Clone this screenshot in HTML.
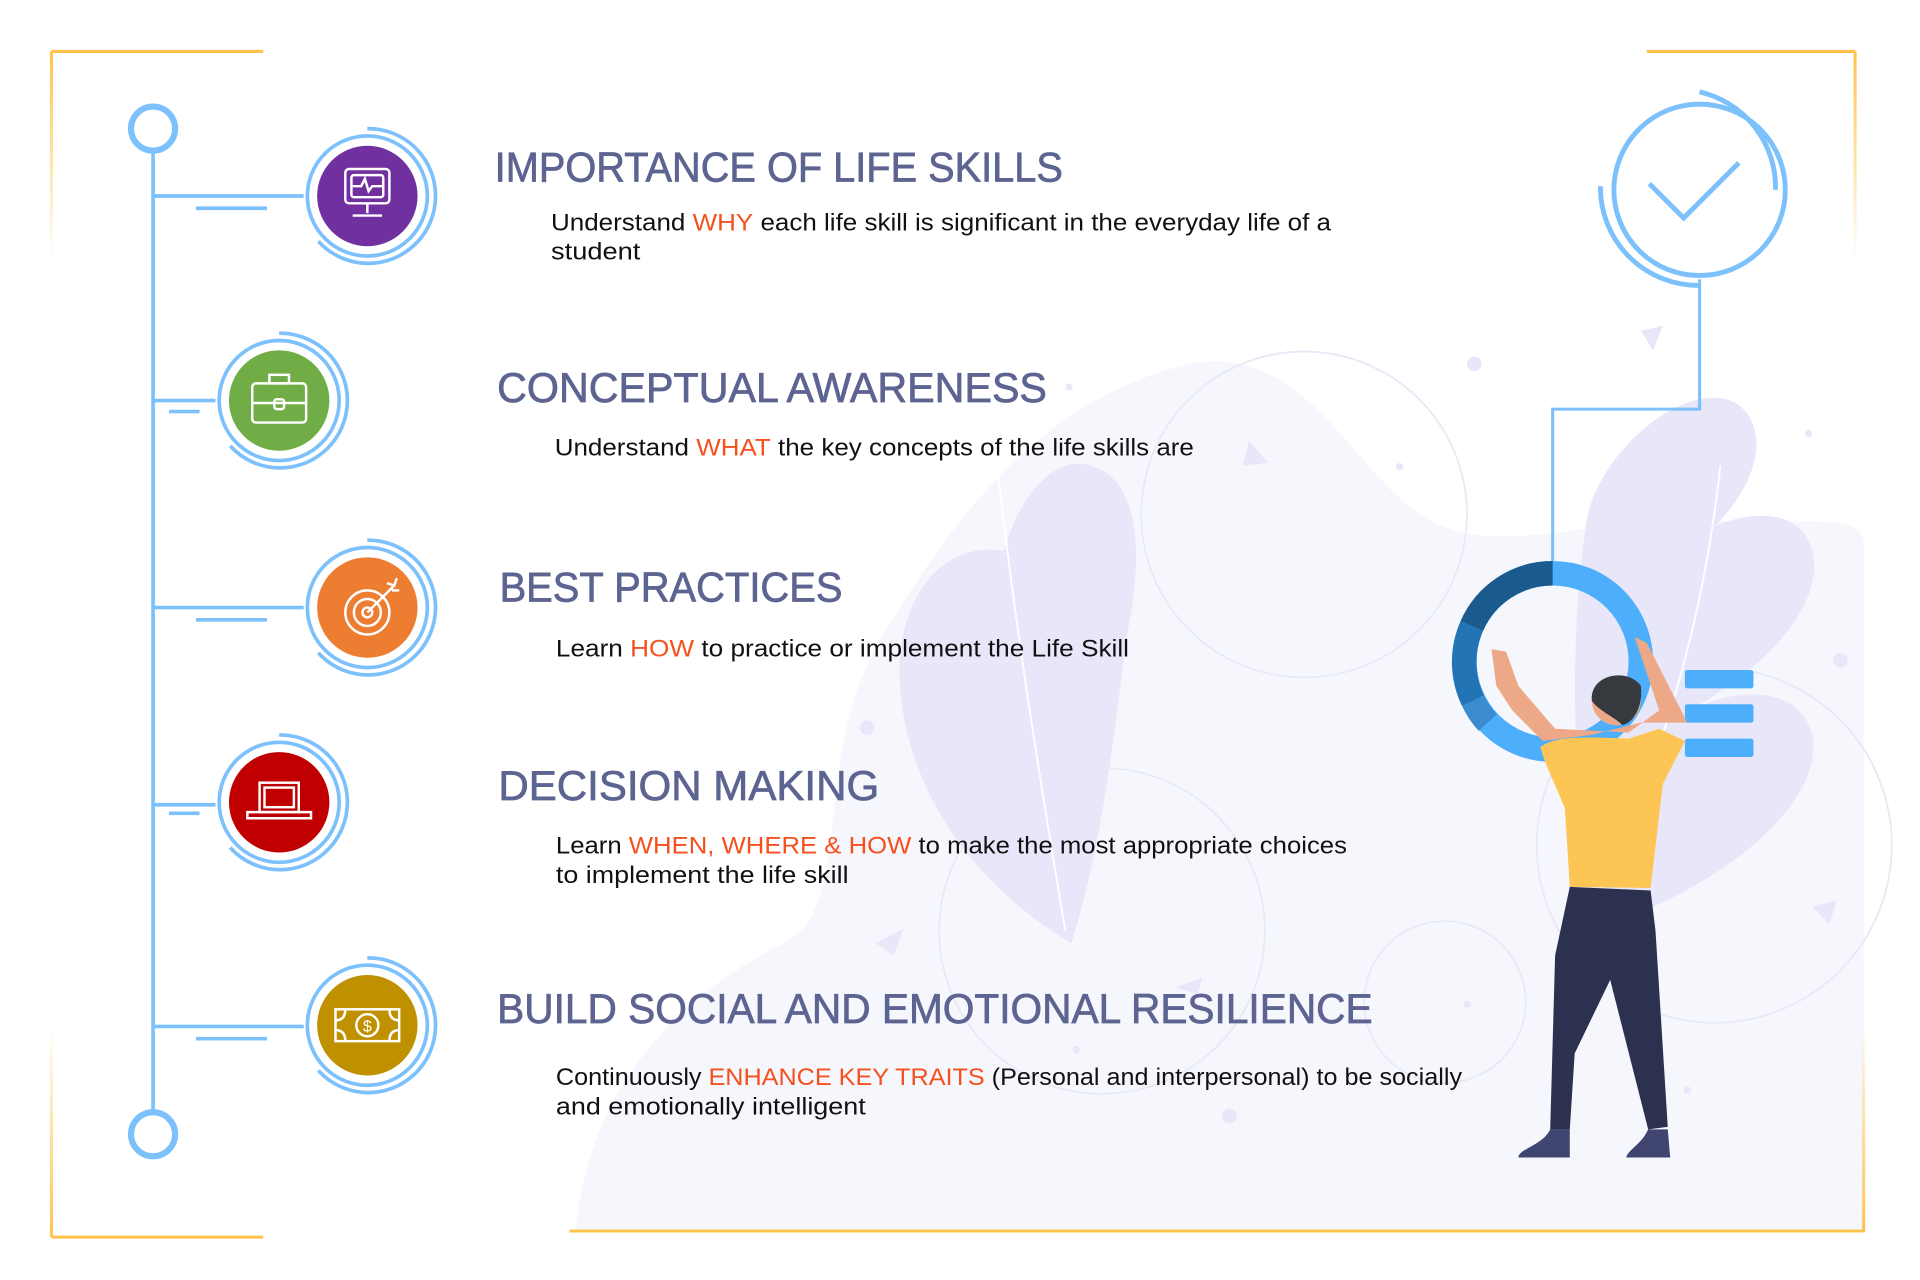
<!DOCTYPE html>
<html><head><meta charset="utf-8">
<style>
html,body{margin:0;padding:0;background:#fff;}
svg{display:block;}
text{font-family:"Liberation Sans",sans-serif;}
.t{font-size:34px;fill:#5d6491;stroke:#5d6491;stroke-width:0.6px;}
.b{font-size:20px;fill:#111;}
.o{fill:#f4511e;}
</style></head>
<body>
<svg width="1920" height="1280" viewBox="0 0 1568 1045" preserveAspectRatio="none" xmlns="http://www.w3.org/2000/svg">
<defs>
<linearGradient id="fd" x1="0" y1="0" x2="0" y2="1"><stop offset="0" stop-color="#ffc34d"/><stop offset="1" stop-color="#ffc34d" stop-opacity="0"/></linearGradient>
<linearGradient id="fu" x1="0" y1="1" x2="0" y2="0"><stop offset="0" stop-color="#ffc34d"/><stop offset="1" stop-color="#ffc34d" stop-opacity="0"/></linearGradient>
</defs>
<rect width="1568" height="1045" fill="#fff"/>
<path d="M470 1005 C480 900 540 820 640 770 C700 740 660 620 720 520 C780 420 850 330 960 300 C1060 270 1100 380 1160 420 C1220 460 1300 420 1400 425 C1480 428 1515 420 1522 440 L1522 1005 Z" fill="#f6f7fd"/>
<g fill="none" stroke="#e8e9f6" stroke-width="1.5">
<circle cx="1065" cy="420" r="133"/>
<circle cx="900" cy="760" r="133"/>
<circle cx="1180" cy="818" r="66"/>
<circle cx="1400" cy="690" r="145"/>
</g>
<g fill="#e8e7fa">
<path d="M875 770 C790 720 740 640 735 560 C730 490 770 440 820 450 C830 410 860 370 890 380 C930 390 935 450 920 520 C910 600 900 690 875 770 Z"/>
<path d="M1300 760 C1420 720 1490 650 1480 600 C1470 560 1420 560 1380 580 C1450 540 1490 490 1480 450 C1470 410 1420 420 1400 430 C1450 380 1440 330 1405 325 C1360 320 1300 380 1295 430 C1285 500 1280 600 1300 760 Z"/>
<path d="M1020 360 L1036 378 L1015 380 Z"/>
<path d="M1340 270 L1358 266 L1350 286 Z"/>
<path d="M715 770 L738 758 L730 780 Z"/>
<path d="M960 806 L982 798 L978 812 Z"/>
<path d="M1480 740 L1500 735 L1494 755 Z"/>
<circle cx="1204" cy="297" r="6"/><circle cx="708" cy="594" r="6"/><circle cx="1503" cy="539" r="6"/><circle cx="1004" cy="911" r="6"/>
<circle cx="873" cy="316" r="3"/><circle cx="1477" cy="354" r="3"/><circle cx="1143" cy="381" r="3"/><circle cx="1198" cy="820" r="3"/><circle cx="879" cy="857" r="3"/><circle cx="1378" cy="890" r="3"/>
</g>
<g fill="none" stroke="#fff" stroke-width="1.5">
<path d="M815 385 C830 520 850 640 870 760"/>
<path d="M1405 380 C1390 520 1350 640 1300 740"/>
</g>
<g fill="none" stroke="#ffc34d" stroke-width="2.5">
<path d="M42 42 L215 42"/>
<path d="M1345 42 L1515 42"/>
<path d="M42 1010 L215 1010"/>
<path d="M465 1005 L1522 1005"/>
</g>
<rect x="40.75" y="42" width="2.5" height="170" fill="url(#fd)"/>
<rect x="1513.75" y="42" width="2.5" height="170" fill="url(#fd)"/>
<rect x="40.75" y="838" width="2.5" height="172" fill="url(#fu)"/>
<rect x="1520.75" y="836" width="2.5" height="170" fill="url(#fu)"/>
<g fill="none" stroke="#7cc1fb" stroke-width="3">
<line x1="125" y1="122" x2="125" y2="908"/>
<circle cx="125" cy="105" r="18" stroke-width="5"/>
<circle cx="125" cy="926" r="18" stroke-width="5"/>
<path d="M125 160 H248"/><path d="M160 170 H218"/>
<path d="M125 327 H176"/><path d="M138 336 H163"/>
<path d="M125 496 H248"/><path d="M160 506 H218"/>
<path d="M125 657 H176"/><path d="M138 664 H163"/>
<path d="M125 838 H248"/><path d="M160 848 H218"/>
</g>
<g>
<g transform="translate(300,160)"><circle r="41" fill="#7030a0"/><circle r="49" fill="none" stroke="#7cc1fb" stroke-width="3"/><path d="M0 -55 A55 55 0 1 1 -40 37" fill="none" stroke="#7cc1fb" stroke-width="3"/>
<g fill="none" stroke="#fff" stroke-width="2"><rect x="-18" y="-22" width="36" height="28" rx="3"/><rect x="-13" y="-17" width="26" height="18" rx="2"/><path d="M-12 -8 h7 l3 -6 l3 10 l3 -4 h8"/><path d="M0 6 v8 M-12 16 h24"/></g></g>
<g transform="translate(228,327)"><circle r="41" fill="#70ad47"/><circle r="49" fill="none" stroke="#7cc1fb" stroke-width="3"/><path d="M0 -55 A55 55 0 1 1 -40 37" fill="none" stroke="#7cc1fb" stroke-width="3"/>
<g fill="none" stroke="#fff" stroke-width="2"><rect x="-22" y="-14" width="44" height="32" rx="3"/><rect x="-8" y="-21" width="16" height="7"/><path d="M-22 2 H22"/><rect x="-4" y="-1" width="8" height="8" rx="2"/></g></g>
<g transform="translate(300,496)"><circle r="41" fill="#ed7d31"/><circle r="49" fill="none" stroke="#7cc1fb" stroke-width="3"/><path d="M0 -55 A55 55 0 1 1 -40 37" fill="none" stroke="#7cc1fb" stroke-width="3"/>
<g fill="none" stroke="#fff" stroke-width="2"><circle r="18" cx="0" cy="4"/><circle r="11" cx="0" cy="4"/><circle r="4" cx="0" cy="4"/><path d="M0 4 L22 -18 M16 -20 l6 2 l2 -6 M20 -14 l6 0"/></g></g>
<g transform="translate(228,655)"><circle r="41" fill="#c00000"/><circle r="49" fill="none" stroke="#7cc1fb" stroke-width="3"/><path d="M0 -55 A55 55 0 1 1 -40 37" fill="none" stroke="#7cc1fb" stroke-width="3"/>
<g fill="none" stroke="#fff" stroke-width="2"><rect x="-16" y="-16" width="32" height="24"/><rect x="-12" y="-12" width="24" height="16"/><path d="M-26 8 h52 v5 h-52 z"/></g></g>
<g transform="translate(300,837)"><circle r="41" fill="#bf9000"/><circle r="49" fill="none" stroke="#7cc1fb" stroke-width="3"/><path d="M0 -55 A55 55 0 1 1 -40 37" fill="none" stroke="#7cc1fb" stroke-width="3"/>
<g fill="none" stroke="#fff" stroke-width="2"><rect x="-26" y="-13" width="52" height="26"/><path d="M-26 -4 q8 0 8 -9 M26 -4 q-8 0 -8 -9 M-26 4 q8 0 8 9 M26 4 q-8 0 -8 9"/><circle r="9"/></g>
<text x="0" y="5" text-anchor="middle" font-size="13" fill="#fff">$</text></g>
</g>
<text class="t" x="404" y="148" textLength="464" lengthAdjust="spacingAndGlyphs">IMPORTANCE OF LIFE SKILLS</text>
<text class="b" x="450" y="188" textLength="637" lengthAdjust="spacingAndGlyphs">Understand <tspan class="o">WHY</tspan> each life skill is significant in the everyday life of a</text>
<text class="b" x="450" y="212" textLength="73" lengthAdjust="spacingAndGlyphs">student</text>

<text class="t" x="406" y="328" textLength="449" lengthAdjust="spacingAndGlyphs">CONCEPTUAL AWARENESS</text>
<text class="b" x="453" y="372" textLength="522" lengthAdjust="spacingAndGlyphs">Understand <tspan class="o">WHAT</tspan> the key concepts of the life skills are</text>

<text class="t" x="408" y="491" textLength="280" lengthAdjust="spacingAndGlyphs">BEST PRACTICES</text>
<text class="b" x="454" y="536" textLength="468" lengthAdjust="spacingAndGlyphs">Learn <tspan class="o">HOW</tspan> to practice or implement the Life Skill</text>

<text class="t" x="407" y="653" textLength="311" lengthAdjust="spacingAndGlyphs">DECISION MAKING</text>
<text class="b" x="454" y="697" textLength="646" lengthAdjust="spacingAndGlyphs">Learn <tspan class="o">WHEN,  WHERE &amp; HOW</tspan> to make the most appropriate choices</text>
<text class="b" x="454" y="721" textLength="239" lengthAdjust="spacingAndGlyphs">to implement the life skill</text>

<text class="t" x="406" y="835" textLength="715" lengthAdjust="spacingAndGlyphs">BUILD SOCIAL AND EMOTIONAL RESILIENCE</text>
<text class="b" x="454" y="886" textLength="740" lengthAdjust="spacingAndGlyphs">Continuously <tspan class="o">ENHANCE KEY TRAITS</tspan> (Personal and interpersonal) to be socially</text>
<text class="b" x="454" y="910" textLength="253" lengthAdjust="spacingAndGlyphs">and emotionally intelligent</text>

<g fill="none" stroke="#7cc1fb" stroke-width="4">
<circle cx="1388" cy="155" r="70"/>
<path d="M1388 75 A80 80 0 0 1 1450 155"/>
<path d="M1388 233 A80 80 0 0 1 1307 152"/>
<path d="M1347 150 L1375 178 L1420 133"/>
</g>
<path d="M1388 228 V334 H1268 V458" fill="none" stroke="#7cc1fb" stroke-width="2.5"/>
<g fill="none" stroke-width="20">
<circle cx="1268" cy="540" r="72" stroke="#4daefc"/>
<path d="M1268 468 A72 72 0 0 0 1202 511" stroke="#1a5a8c"/>
<path d="M1202 511 A72 72 0 0 0 1203 572" stroke="#2274b5"/>
<path d="M1203 572 A72 72 0 0 0 1215 590" stroke="#3a8bd0"/>
</g>
<g fill="#4daefc"><rect x="1376" y="547" width="56" height="15" rx="2"/><rect x="1376" y="575" width="56" height="15" rx="2"/><rect x="1376" y="603" width="56" height="15" rx="2"/></g>
<path d="M1218 530 L1222 560 L1235 580 L1260 605 L1300 600 L1340 590 L1378 590 L1345 525 L1335 520 L1355 580 L1330 598 L1270 595 L1240 560 L1230 532 Z" fill="#eda987"/>
<circle cx="1320" cy="572" r="20" fill="#eda987"/>
<path d="M1300 572 C1298 550 1330 545 1340 560 C1342 575 1335 590 1325 592 C1318 585 1305 580 1300 572 Z" fill="#363a3e"/>
<path d="M1258 610 C1270 600 1300 602 1330 603 L1355 595 L1376 605 L1358 640 L1348 725 L1282 724 L1278 660 C1270 640 1262 625 1258 610 Z" fill="#fdc553"/>
<path d="M1282 724 L1348 727 L1352 760 L1362 920 L1346 922 L1315 800 L1286 860 L1282 922 L1266 922 L1270 780 Z" fill="#2d3150"/>
<path d="M1266 922 L1282 922 L1282 945 L1240 945 C1240 938 1260 935 1266 922 Z" fill="#3f4470"/>
<path d="M1346 922 L1362 922 L1364 945 L1328 945 C1330 938 1340 935 1346 922 Z" fill="#3f4470"/>
</svg>
</body></html>
